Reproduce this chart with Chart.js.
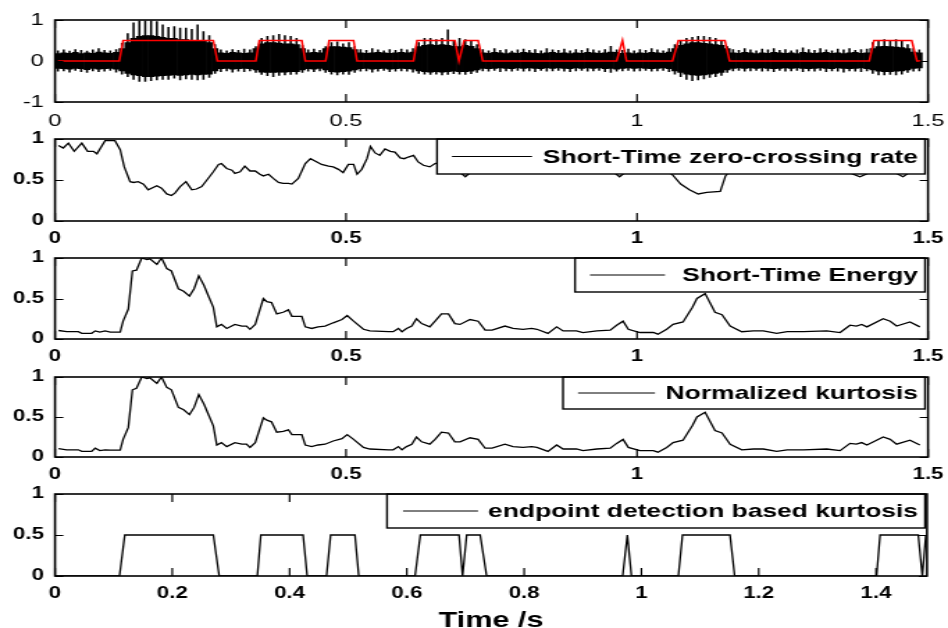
<!DOCTYPE html>
<html>
<head>
<meta charset="utf-8">
<script src="https://cdn.jsdelivr.net/npm/chart.js@4.4.0/dist/chart.umd.min.js"></script>
<style>
html, body { margin: 0; padding: 0; background: #fff; }
#wrap { position: relative; width: 948px; height: 628px; overflow: hidden; }
#wrap canvas { position: absolute; left: 0; }
</style>
</head>
<body>
<div id="wrap"></div>
<script>
// ---- data ----

// waveform, one bin every 10 ms: dense body and peak spikes
const waveStep = 0.01;
const bodyHi = [
  0.18,0.20,0.19,0.21,0.18,0.20,0.19,0.22,0.20,0.19,
  0.21,0.30,0.45,0.55,0.60,0.62,0.62,0.60,0.58,0.55,
  0.55,0.52,0.52,0.50,0.50,0.48,0.45,0.30,0.20,0.19,
  0.21,0.20,0.19,0.20,0.30,0.42,0.45,0.45,0.44,0.42,
  0.42,0.40,0.30,0.20,0.21,0.20,0.30,0.35,0.35,0.34,
  0.33,0.28,0.20,0.19,0.20,0.21,0.20,0.19,0.20,0.21,
  0.20,0.22,0.35,0.38,0.40,0.38,0.40,0.38,0.36,0.35,
  0.38,0.36,0.30,0.20,0.19,0.21,0.20,0.18,0.20,0.19,
  0.21,0.20,0.19,0.18,0.20,0.21,0.19,0.20,0.18,0.20,
  0.19,0.21,0.20,0.19,0.20,0.22,0.21,0.19,0.20,0.18,
  0.20,0.19,0.21,0.20,0.19,0.22,0.30,0.38,0.42,0.45,
  0.45,0.43,0.42,0.40,0.38,0.30,0.20,0.19,0.21,0.20,
  0.18,0.20,0.19,0.21,0.20,0.19,0.20,0.18,0.21,0.20,
  0.19,0.20,0.21,0.19,0.20,0.18,0.20,0.21,0.19,0.20,
  0.30,0.35,0.36,0.35,0.34,0.33,0.30,0.22,0.20
];
const bodyLo = [
  -0.18,-0.19,-0.20,-0.18,-0.19,-0.21,-0.18,-0.20,-0.19,-0.18,
  -0.20,-0.24,-0.30,-0.34,-0.36,-0.38,-0.38,-0.37,-0.36,-0.35,
  -0.34,-0.35,-0.34,-0.33,-0.34,-0.33,-0.32,-0.24,-0.19,-0.18,
  -0.20,-0.19,-0.18,-0.19,-0.22,-0.27,-0.28,-0.28,-0.27,-0.27,
  -0.26,-0.26,-0.22,-0.19,-0.20,-0.18,-0.22,-0.26,-0.27,-0.26,
  -0.25,-0.22,-0.19,-0.18,-0.20,-0.19,-0.18,-0.20,-0.19,-0.18,
  -0.19,-0.20,-0.24,-0.26,-0.27,-0.26,-0.27,-0.26,-0.25,-0.26,
  -0.26,-0.25,-0.22,-0.18,-0.19,-0.18,-0.17,-0.18,-0.19,-0.17,
  -0.18,-0.17,-0.18,-0.19,-0.17,-0.18,-0.17,-0.18,-0.19,-0.17,
  -0.18,-0.17,-0.18,-0.17,-0.19,-0.18,-0.20,-0.18,-0.17,-0.18,
  -0.17,-0.18,-0.19,-0.18,-0.17,-0.19,-0.24,-0.28,-0.32,-0.34,
  -0.35,-0.34,-0.32,-0.30,-0.28,-0.22,-0.18,-0.17,-0.18,-0.17,
  -0.18,-0.17,-0.18,-0.19,-0.18,-0.17,-0.18,-0.17,-0.18,-0.19,
  -0.18,-0.17,-0.18,-0.19,-0.17,-0.18,-0.19,-0.18,-0.17,-0.19,
  -0.22,-0.25,-0.26,-0.26,-0.25,-0.24,-0.22,-0.18,-0.17
];
const peakHi = [
  0.25,0.27,0.24,0.28,0.26,0.24,0.27,0.30,0.26,0.25,
  0.28,0.43,0.67,0.93,0.98,0.98,0.98,0.96,0.88,0.82,
  0.84,0.80,0.80,0.77,0.88,0.72,0.62,0.40,0.27,0.25,
  0.28,0.26,0.29,0.27,0.35,0.55,0.60,0.62,0.65,0.62,
  0.60,0.55,0.38,0.27,0.29,0.26,0.35,0.45,0.47,0.42,
  0.45,0.35,0.28,0.26,0.30,0.27,0.25,0.28,0.26,0.29,
  0.27,0.30,0.45,0.55,0.55,0.52,0.55,0.76,0.50,0.55,
  0.52,0.50,0.40,0.28,0.25,0.30,0.26,0.28,0.24,0.27,
  0.29,0.26,0.28,0.25,0.30,0.27,0.26,0.29,0.25,0.28,
  0.26,0.30,0.27,0.25,0.28,0.36,0.27,0.26,0.29,0.25,
  0.28,0.26,0.30,0.27,0.25,0.30,0.40,0.50,0.55,0.58,
  0.60,0.60,0.58,0.55,0.50,0.35,0.28,0.26,0.30,0.27,
  0.25,0.29,0.27,0.30,0.26,0.28,0.25,0.27,0.32,0.28,
  0.26,0.30,0.27,0.25,0.29,0.27,0.30,0.26,0.28,0.29,
  0.45,0.50,0.52,0.50,0.52,0.48,0.40,0.30,0.27
];
const peakLo = [
  -0.25,-0.24,-0.27,-0.23,-0.26,-0.28,-0.24,-0.26,-0.25,-0.23,
  -0.27,-0.32,-0.38,-0.45,-0.50,-0.50,-0.48,-0.46,-0.45,-0.45,
  -0.42,-0.46,-0.44,-0.45,-0.46,-0.45,-0.40,-0.30,-0.26,-0.24,
  -0.27,-0.25,-0.26,-0.24,-0.28,-0.33,-0.36,-0.38,-0.35,-0.34,
  -0.33,-0.32,-0.28,-0.25,-0.26,-0.24,-0.28,-0.32,-0.34,-0.32,
  -0.33,-0.28,-0.25,-0.24,-0.27,-0.25,-0.23,-0.26,-0.25,-0.24,
  -0.25,-0.27,-0.30,-0.32,-0.33,-0.32,-0.34,-0.33,-0.31,-0.32,
  -0.33,-0.31,-0.28,-0.24,-0.25,-0.23,-0.26,-0.24,-0.25,-0.23,
  -0.25,-0.24,-0.26,-0.23,-0.25,-0.24,-0.23,-0.25,-0.26,-0.24,
  -0.23,-0.25,-0.24,-0.23,-0.26,-0.28,-0.25,-0.24,-0.23,-0.25,
  -0.24,-0.23,-0.25,-0.24,-0.23,-0.26,-0.32,-0.38,-0.45,-0.48,
  -0.46,-0.44,-0.40,-0.38,-0.35,-0.28,-0.24,-0.23,-0.25,-0.24,
  -0.23,-0.25,-0.24,-0.26,-0.23,-0.25,-0.24,-0.23,-0.26,-0.24,
  -0.25,-0.23,-0.26,-0.24,-0.25,-0.27,-0.24,-0.25,-0.26,-0.24,
  -0.30,-0.34,-0.34,-0.33,-0.34,-0.32,-0.28,-0.25,-0.24
];

// red detection curve on the waveform
const redT = [0.005,0.1105,0.117,0.272,0.279,0.345,0.351,0.424,0.430,0.465,
  0.471,0.513,0.519,0.616,0.622,0.687,0.694,0.703,0.727,0.735,
  0.965,0.975,0.982,1.061,1.071,1.151,1.159,1.399,1.407,1.472,1.481,1.487];
const redV = [0,0,0.5,0.5,0,0,0.5,0.5,0,0,
  0.5,0.5,0,0,0.5,0.5,0,0.5,0.5,0,
  0,0.5,0,0,0.5,0.5,0,0,0.5,0.5,0,0];

// short-time zero-crossing rate
const zcrT = [
  0.006,0.014,0.023,0.033,0.046,0.056,0.066,0.072,0.086,0.103,
  0.112,0.119,0.129,0.135,0.143,0.152,0.160,0.175,0.183,0.192,
  0.200,0.206,0.215,0.225,0.235,0.243,0.252,0.261,0.272,0.281,
  0.286,0.295,0.304,0.309,0.318,0.326,0.335,0.344,0.352,0.358,
  0.367,0.375,0.384,0.392,0.401,0.407,0.418,0.430,0.439,0.450,
  0.458,0.470,0.478,0.487,0.495,0.504,0.513,0.519,0.527,0.536,
  0.542,0.550,0.558,0.567,0.576,0.584,0.593,0.600,0.607,0.616,
  0.624,0.633,0.644,0.653,0.665,0.680,0.695,0.705,0.715,0.730,
  0.750,0.780,0.810,0.840,0.870,0.900,0.930,0.955,0.970,0.985,
  1.010,1.040,1.060,1.075,1.090,1.105,1.120,1.143,1.152,1.165,
  1.200,1.250,1.300,1.350,1.383,1.410,1.440,1.457,1.470,1.487
];
const zcrV = [
  0.92,0.89,0.95,0.85,0.95,0.85,0.85,0.82,0.98,0.98,
  0.87,0.66,0.48,0.47,0.48,0.45,0.38,0.43,0.40,0.33,
  0.31,0.34,0.42,0.48,0.38,0.39,0.42,0.50,0.60,0.69,
  0.70,0.64,0.62,0.58,0.60,0.67,0.61,0.61,0.57,0.55,
  0.57,0.52,0.47,0.46,0.46,0.45,0.52,0.70,0.76,0.72,
  0.69,0.67,0.66,0.63,0.59,0.69,0.69,0.57,0.63,0.76,
  0.91,0.83,0.80,0.88,0.85,0.84,0.77,0.76,0.78,0.80,
  0.72,0.68,0.66,0.70,0.72,0.65,0.60,0.54,0.60,0.68,
  0.72,0.70,0.66,0.70,0.68,0.66,0.64,0.62,0.54,0.62,
  0.66,0.62,0.57,0.45,0.38,0.33,0.35,0.36,0.55,0.66,
  0.70,0.68,0.66,0.63,0.54,0.62,0.60,0.54,0.60,0.62
];

// short-time energy and normalized kurtosis (same frames)
const energyT = [
  0.006,0.020,0.040,0.046,0.063,0.069,0.077,0.086,0.095,0.112,
  0.117,0.126,0.133,0.140,0.149,0.158,0.163,0.175,0.183,0.192,
  0.200,0.212,0.221,0.231,0.239,0.247,0.256,0.263,0.272,0.278,
  0.286,0.295,0.309,0.321,0.329,0.335,0.344,0.358,0.364,0.372,
  0.381,0.392,0.401,0.407,0.424,0.430,0.441,0.452,0.464,0.478,
  0.493,0.502,0.513,0.530,0.541,0.573,0.581,0.590,0.596,0.604,
  0.613,0.621,0.630,0.644,0.653,0.664,0.676,0.687,0.696,0.713,
  0.727,0.739,0.751,0.773,0.787,0.804,0.819,0.828,0.847,0.862,
  0.873,0.896,0.907,0.931,0.954,0.965,0.976,0.985,1.005,1.028,
  1.036,1.051,1.062,1.079,1.095,1.103,1.117,1.134,1.146,1.160,
  1.180,1.200,1.217,1.240,1.258,1.286,1.326,1.349,1.366,1.377,
  1.386,1.395,1.423,1.435,1.446,1.469,1.486
];
const energyV = [
  0.105,0.09,0.09,0.07,0.07,0.10,0.085,0.10,0.085,0.085,
  0.22,0.37,0.84,0.85,1.0,0.98,0.99,0.92,1.0,0.87,
  0.84,0.62,0.59,0.53,0.62,0.78,0.66,0.54,0.39,0.15,
  0.18,0.13,0.18,0.16,0.16,0.12,0.18,0.50,0.46,0.45,
  0.31,0.33,0.36,0.28,0.28,0.15,0.13,0.15,0.16,0.20,
  0.24,0.29,0.22,0.12,0.10,0.09,0.09,0.13,0.09,0.13,
  0.16,0.25,0.19,0.15,0.22,0.31,0.31,0.19,0.18,0.24,
  0.22,0.11,0.11,0.16,0.13,0.12,0.13,0.12,0.07,0.15,
  0.10,0.10,0.08,0.10,0.11,0.17,0.22,0.12,0.08,0.08,
  0.06,0.12,0.18,0.21,0.39,0.50,0.56,0.33,0.30,0.16,
  0.09,0.10,0.10,0.07,0.09,0.09,0.10,0.08,0.17,0.16,
  0.18,0.15,0.25,0.22,0.16,0.21,0.15
];
const kurtV = [
  0.105,0.09,0.09,0.07,0.07,0.11,0.08,0.09,0.085,0.085,
  0.22,0.37,0.84,0.86,1.0,0.98,0.99,0.92,1.0,0.87,
  0.84,0.62,0.59,0.53,0.62,0.78,0.66,0.54,0.39,0.15,
  0.18,0.13,0.18,0.16,0.16,0.12,0.18,0.49,0.46,0.44,
  0.31,0.32,0.34,0.28,0.28,0.15,0.13,0.15,0.16,0.20,
  0.23,0.28,0.22,0.12,0.10,0.09,0.09,0.13,0.09,0.13,
  0.16,0.25,0.19,0.16,0.22,0.31,0.30,0.19,0.19,0.24,
  0.22,0.11,0.11,0.16,0.13,0.12,0.13,0.12,0.07,0.15,
  0.10,0.10,0.08,0.10,0.11,0.17,0.22,0.12,0.08,0.08,
  0.06,0.12,0.18,0.21,0.39,0.50,0.56,0.33,0.30,0.16,
  0.09,0.10,0.10,0.07,0.09,0.09,0.10,0.08,0.17,0.16,
  0.18,0.15,0.25,0.22,0.16,0.21,0.15
];

// endpoint detection based on kurtosis
const detT = [0,0.110,0.119,0.270,0.280,0.345,0.351,0.423,0.430,0.463,
  0.470,0.5115,0.518,0.614,0.623,0.689,0.695,0.702,0.725,0.736,
  0.968,0.976,0.983,1.063,1.070,1.151,1.159,1.401,1.407,1.472,1.479,1.485];
const detV = [0,0,0.5,0.5,0,0,0.5,0.5,0,0,
  0.5,0.5,0,0,0.5,0.5,0,0.5,0.5,0,
  0,0.5,0,0,0.5,0.5,0,0,0.5,0.5,0,0.5];

// tick labels
const xTicksTop = [0, 0.5, 1, 1.5];
const xTicksBottom = [0, 0.2, 0.4, 0.6, 0.8, 1, 1.2, 1.4];
const yTicksWave = [-1, 0, 1];
const yTicksUnit = [0, 0.5, 1];

const legendNames = [
  'Short-Time zero-crossing rate',
  'Short-Time Energy',
  'Normalized kurtosis',
  'endpoint detection based kurtosis'
];

// ---- layout ----
// the figure is drawn narrow and stretched sideways, like the exported original
const PAGE_W = 948;
const CANVAS_W = 682;
const K = PAGE_W / CANVAS_W;
const FONT = '"Liberation Sans", Arial, sans-serif';

Chart.defaults.font.family = FONT;
Chart.defaults.color = '#000';

function pairs(ts, vs) {
  return ts.map((t, i) => ({ x: t, y: vs[i] }));
}
function bins(lo, hi) {
  return lo.map((v, i) => ({ x: waveStep * i + waveStep / 2, y: [v, hi[i]] }));
}
function blackLine(data) {
  return { data: data, borderColor: '#000', borderWidth: 1.3, pointRadius: 0, tension: 0, fill: false };
}

// axes box, inward ticks on all four sides, MATLAB-style legend
const frameBox = {
  id: 'frameBox',
  afterDatasetsDraw(chart, args, opts) {
    const ctx = chart.ctx;
    const a = chart.chartArea;
    const sx = chart.scales.x, sy = chart.scales.y;
    const tlx = 8, tly = 6;
    ctx.save();
    ctx.strokeStyle = '#000';
    ctx.lineWidth = 1.2;
    ctx.beginPath();
    sx.ticks.forEach(t => {
      const px = sx.getPixelForValue(t.value);
      ctx.moveTo(px, a.bottom); ctx.lineTo(px, a.bottom - tlx);
      ctx.moveTo(px, a.top); ctx.lineTo(px, a.top + tlx);
    });
    sy.ticks.forEach(t => {
      const py = Math.round(sy.getPixelForValue(t.value)) + 0.5;
      ctx.moveTo(a.left, py); ctx.lineTo(a.left + tly, py);
      ctx.moveTo(a.right, py); ctx.lineTo(a.right - tly, py);
    });
    ctx.stroke();

    const L = opts.legend;
    if (L) {
      const x0 = L.left / K, x1 = L.right / K;
      ctx.fillStyle = '#fff';
      ctx.fillRect(x0, a.top, x1 - x0, L.h);
      ctx.lineWidth = 1.4;
      ctx.strokeRect(x0, a.top, x1 - x0, L.h);
      const my = a.top + L.h / 2;
      ctx.lineWidth = 1;
      ctx.beginPath();
      ctx.moveTo(L.lineFrom / K, my); ctx.lineTo(L.lineTo / K, my);
      ctx.stroke();
      ctx.fillStyle = '#000';
      ctx.font = 'bold 19px ' + FONT;
      ctx.textAlign = 'right';
      ctx.textBaseline = 'middle';
      ctx.fillText(L.text, L.textRight / K, my + 1);
    }
    ctx.lineWidth = 1.6;
    ctx.strokeRect(a.left, a.top, a.width, a.height);
    ctx.restore();
  }
};

function makePanel(p) {
  const cv = document.createElement('canvas');
  const padTop = 10;
  const h = (p.bottom - p.top) + padTop + p.xh;
  cv.width = CANVAS_W;
  cv.height = h;
  cv.style.width = PAGE_W + 'px';
  cv.style.height = h + 'px';
  cv.style.top = (p.top - padTop) + 'px';
  document.getElementById('wrap').appendChild(cv);
  const tickFont = p.thin ? { size: 17, weight: 'normal' } : { size: 16, weight: 'bold' };
  return new Chart(cv, {
    type: 'line',
    data: { datasets: p.datasets },
    options: {
      responsive: false,
      animation: false,
      events: [],
      layout: { padding: { top: padTop, left: 0, right: CANVAS_W - p.right / K, bottom: 0 } },
      plugins: {
        legend: { display: false },
        tooltip: { enabled: false },
        frameBox: { legend: p.legend }
      },
      scales: {
        x: {
          type: 'linear', min: 0, max: p.xmax, offset: false,
          afterFit: s => { s.height = p.xh; s.paddingLeft = 0; s.paddingRight = 0; },
          afterBuildTicks: s => { s.ticks = p.xticks.map(v => ({ value: v })); },
          grid: { display: false, drawTicks: false },
          border: { display: false },
          ticks: { autoSkip: false, maxRotation: 0, padding: p.thin ? 9 : 8, font: tickFont, callback: v => String(v) },
          title: p.title ? {
            display: true, text: p.title,
            font: { size: 22, weight: 'bold', lineHeight: 0.6 },
            padding: { top: 0, bottom: 0 }
          } : { display: false }
        },
        y: {
          type: 'linear', min: p.ymin, max: 1,
          afterFit: s => { s.width = 55 / K; s.paddingTop = 0; s.paddingBottom = 0; },
          afterBuildTicks: s => { s.ticks = p.yticks.map(v => ({ value: v })); },
          grid: { display: false, drawTicks: false },
          border: { display: false },
          ticks: { autoSkip: false, padding: 8, font: tickFont, callback: v => String(v) }
        }
      }
    },
    plugins: [frameBox]
  });
}

// ---- panels (positions in page pixels) ----
makePanel({
  top: 20, bottom: 102, right: 928, xh: 36, xmax: 1.5, ymin: -1, thin: true,
  xticks: xTicksTop, yticks: yTicksWave,
  datasets: [
    Object.assign(blackLine(pairs(redT, redV)), { borderColor: '#ff0000', borderWidth: 1.5, order: 0 }),
    { type: 'bar', data: bins(peakLo, peakHi), backgroundColor: '#000', borderWidth: 0,
      barThickness: 0.9, grouped: false, order: 1 },
    { type: 'bar', data: bins(bodyLo, bodyHi), backgroundColor: '#000', borderWidth: 0,
      barPercentage: 1, categoryPercentage: 1, grouped: false, order: 2 }
  ]
});

makePanel({
  top: 139, bottom: 221, right: 928, xh: 36, xmax: 1.5, ymin: 0,
  xticks: xTicksTop, yticks: yTicksUnit,
  datasets: [blackLine(pairs(zcrT, zcrV))],
  legend: { text: legendNames[0], left: 437, right: 925, h: 35, lineFrom: 452, lineTo: 532, textRight: 918 }
});

makePanel({
  top: 258, bottom: 339, right: 928, xh: 36, xmax: 1.5, ymin: 0,
  xticks: xTicksTop, yticks: yTicksUnit,
  datasets: [blackLine(pairs(energyT, energyV))],
  legend: { text: legendNames[1], left: 575, right: 925, h: 34, lineFrom: 590, lineTo: 665, textRight: 918 }
});

makePanel({
  top: 377, bottom: 457, right: 928, xh: 36, xmax: 1.5, ymin: 0,
  xticks: xTicksTop, yticks: yTicksUnit,
  datasets: [blackLine(pairs(energyT, kurtV))],
  legend: { text: legendNames[2], left: 563, right: 925, h: 32, lineFrom: 578, lineTo: 655, textRight: 918 }
});

makePanel({
  top: 494, bottom: 576, right: 927, xh: 52, xmax: 1.487, ymin: 0,
  xticks: xTicksBottom, yticks: yTicksUnit, title: 'Time /s',
  datasets: [blackLine(pairs(detT, detV))],
  legend: { text: legendNames[3], left: 387, right: 925, h: 34, lineFrom: 403, lineTo: 478, textRight: 918 }
});
</script>
</body>
</html>
